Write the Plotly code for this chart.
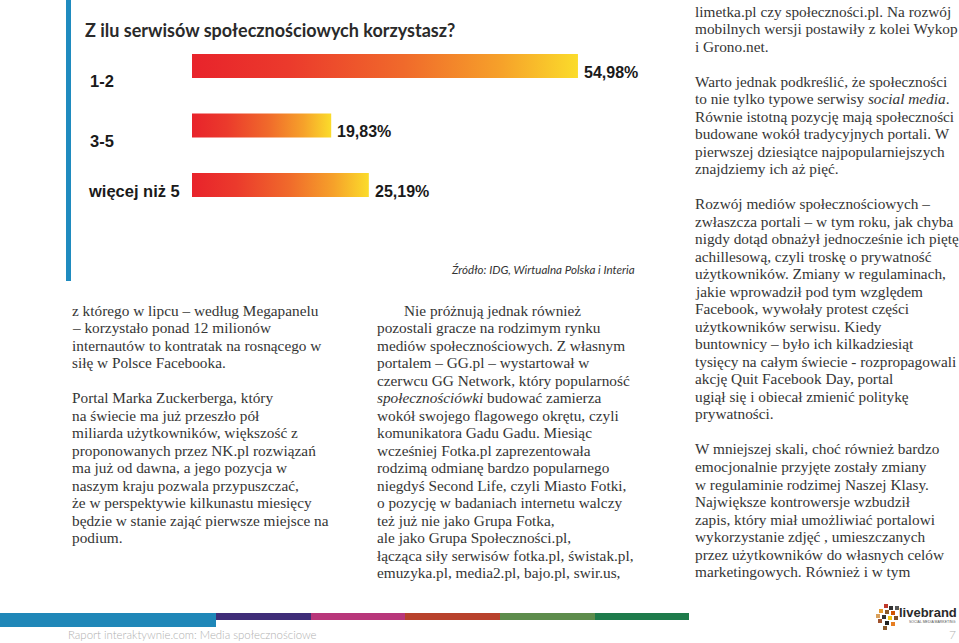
import plotly.graph_objects as go

W, H = 959, 643

# ---------------- data ----------------
title = "Z ilu serwisów społecznościowych korzystasz?"
categories = ["1-2", "3-5", "więcej niż 5"]
values = [54.98, 19.83, 25.19]
source = "Źródło: IDG, Wirtualna Polska i Interia"

col1_paragraphs = [
    ["z którego w lipcu – według Megapanelu",
     "– korzystało ponad 12 milionów",
     "internautów to kontratak na rosnącego w",
     "siłę w Polsce Facebooka."],
    ["Portal Marka Zuckerberga, który",
     "na świecie ma już przeszło pół",
     "miliarda użytkowników, większość z",
     "proponowanych przez NK.pl rozwiązań",
     "ma już od dawna, a jego pozycja w",
     "naszym kraju pozwala przypuszczać,",
     "że w perspektywie kilkunastu miesięcy",
     "będzie w stanie zająć pierwsze miejsce na",
     "podium."],
]
col2_paragraphs = [
    ["Nie próżnują jednak również",
     "pozostali gracze na rodzimym rynku",
     "mediów społecznościowych. Z własnym",
     "portalem – GG.pl – wystartował w",
     "czerwcu GG Network, który popularność",
     "<i>społecznościówki</i> budować zamierza",
     "wokół swojego flagowego okrętu, czyli",
     "komunikatora Gadu Gadu. Miesiąc",
     "wcześniej Fotka.pl zaprezentowała",
     "rodzimą odmianę bardzo popularnego",
     "niegdyś Second Life, czyli Miasto Fotki,",
     "o pozycję w badaniach internetu walczy",
     "też już nie jako Grupa Fotka,",
     "ale jako Grupa Społeczności.pl,",
     "łącząca siły serwisów fotka.pl, świstak.pl,",
     "emuzyka.pl, media2.pl, bajo.pl, swir.us,"],
]
col3_paragraphs = [
    ["limetka.pl czy społeczności.pl. Na rozwój",
     "mobilnych wersji postawiły z kolei Wykop",
     "i Grono.net."],
    ["Warto jednak podkreślić, że społeczności",
     "to nie tylko typowe serwisy <i>social media</i>.",
     "Równie istotną pozycję mają społeczności",
     "budowane wokół tradycyjnych portali. W",
     "pierwszej dziesiątce najpopularniejszych",
     "znajdziemy ich aż pięć."],
    ["Rozwój mediów społecznościowych –",
     "zwłaszcza portali – w tym roku, jak chyba",
     "nigdy dotąd obnażył jednocześnie ich piętę",
     "achillesową, czyli troskę o prywatność",
     "użytkowników. Zmiany w regulaminach,",
     "jakie wprowadził pod tym względem",
     "Facebook, wywołały protest części",
     "użytkowników serwisu. Kiedy",
     "buntownicy – było ich kilkadziesiąt",
     "tysięcy na całym świecie - rozpropagowali",
     "akcję Quit Facebook Day, portal",
     "ugiął się i obiecał zmienić politykę",
     "prywatności."],
    ["W mniejszej skali, choć również bardzo",
     "emocjonalnie przyjęte zostały zmiany",
     "w regulaminie rodzimej Naszej Klasy.",
     "Największe kontrowersje wzbudził",
     "zapis, który miał umożliwiać portalowi",
     "wykorzystanie zdjęć , umieszczanych",
     "przez użytkowników do własnych celów",
     "marketingowych. Również i w tym"],
]
footer_text = "Raport interaktywnie.com: Media społecznościowe"
page_number = "7"
logo_text = "livebrand"
logo_sub = "SOCIAL MEDIA MARKETING"

# ---------------- helpers ----------------
def PX(x):
    return x / W

def PY(y):
    return 1 - y / H

fig = go.Figure()

# bar axis geometry: x=0 at pixel 192, ~7.02 px per percent
X0, PPU = 192.0, 7.02
Y0, STEP = 66.0, 59.5
HALF = 12.0 / STEP

grad = [[0.0, "#e8232b"], [0.25, "#eb3a2c"], [0.55, "#f06a2b"],
        [0.8, "#f6a12a"], [1.0, "#fbdc2b"]]

for i, (c, v) in enumerate(zip(categories, values)):
    fig.add_trace(go.Scatter(
        x=[0, v, v, 0, 0],
        y=[i - HALF, i - HALF, i + HALF, i + HALF, i - HALF],
        mode="none", fill="toself",
        fillgradient=dict(type="horizontal", colorscale=grad),
        hoverinfo="skip", showlegend=False,
    ))

fig.update_xaxes(range=[-X0 / PPU, (W - X0) / PPU], visible=False, fixedrange=True)
fig.update_yaxes(range=[(H - Y0) / STEP, -Y0 / STEP], visible=False, fixedrange=True)

ann = []
# title
ann.append(dict(x=PX(83), y=PY(30), xref="paper", yref="paper", text=title,
                showarrow=False, xanchor="left", yanchor="middle",
                font=dict(family="Lato", size=18, color="#2a2a2a", weight=700)))
# category labels
label_dx = [88, 88, 86]
label_dy = [15, 15, 6]
for i, c in enumerate(categories):
    ann.append(dict(x=PX(label_dx[i]), y=i, xref="paper", yref="y", text=c,
                    yshift=-label_dy[i], showarrow=False, xanchor="left", yanchor="middle",
                    font=dict(family="Liberation Sans", size=16.5, color="#1a1a1a", weight=700)))
# value labels
for i, v in enumerate(values):
    ann.append(dict(x=v, y=i, xref="x", yref="y",
                    text=f"{v:.2f}".replace(".", ",") + "%",
                    xshift=4, yshift=-6, showarrow=False, xanchor="left", yanchor="middle",
                    font=dict(family="Liberation Sans", size=16, color="#1a1a1a", weight=700)))
# source
ann.append(dict(x=PX(637), y=PY(269), xref="paper", yref="paper", text=f"<i>{source}</i>",
                showarrow=False, xanchor="right", yanchor="middle",
                font=dict(family="Lato", size=11.6, color="#333333")))

# body text columns
LINE = 17.52
body_font = dict(family="Liberation Serif", size=15.3, color="#353535")

def add_column(paragraphs, x, y_start, first_indent=0):
    y = y_start
    for p in paragraphs:
        for j, line in enumerate(p):
            xx = x + (first_indent if j == 0 else 0)
            ann.append(dict(x=PX(xx), y=PY(y), xref="paper", yref="paper", text=line,
                            showarrow=False, xanchor="left", yanchor="middle",
                            font=body_font))
            y += LINE
        y += LINE

add_column(col1_paragraphs, 70, 310)
add_column(col2_paragraphs, 375, 310, first_indent=27)
add_column(col3_paragraphs, 693, 11)

# footer
ann.append(dict(x=PX(66), y=PY(634), xref="paper", yref="paper", text=footer_text,
                showarrow=False, xanchor="left", yanchor="middle",
                font=dict(family="Lato", size=11.4, color="#b0b0b0", weight=300)))
ann.append(dict(x=PX(958), y=PY(634), xref="paper", yref="paper", text=page_number,
                showarrow=False, xanchor="right", yanchor="middle",
                font=dict(family="Lato", size=12, color="#b0b0b0", weight=300)))
ann.append(dict(x=PX(959), y=PY(612), xref="paper", yref="paper", text=logo_text,
                showarrow=False, xanchor="right", yanchor="middle",
                font=dict(family="Liberation Sans", size=13, color="#2a2a2a", weight=700)))
ann.append(dict(x=PX(958), y=PY(622), xref="paper", yref="paper", text=logo_sub,
                showarrow=False, xanchor="right", yanchor="middle",
                font=dict(family="Liberation Sans", size=3.5, color="#555555")))

shapes = []
# vertical blue accent bar
shapes.append(dict(type="rect", xref="paper", yref="paper", x0=PX(66), x1=PX(71),
                   y0=PY(281), y1=PY(0), fillcolor="#1f8bbf", line_width=0, layer="above"))
# footer colour strip
strip = [(0, 216, 613, 627, "#1f87b8"), (216, 311, 613, 620, "#3f2e78"),
         (311, 405, 613, 620, "#b8367a"), (405, 500, 613, 620, "#b8412c"),
         (500, 595, 613, 620, "#5d8c4c"), (595, 689, 613, 620, "#1e7b4b")]
for x0, x1, y0, y1, col in strip:
    shapes.append(dict(type="rect", xref="paper", yref="paper", x0=PX(x0), x1=PX(x1),
                       y0=PY(y1), y1=PY(y0), fillcolor=col, line_width=0))
# little pixel logo icon
icon = [(884, 604, "#c0392b"), (889, 606, "#333333"), (879, 609, "#e69a2e"),
        (885, 610, "#8a5a2b"), (891, 611, "#d35400"), (882, 615, "#333333"),
        (888, 616, "#f1c40f"), (894, 616, "#7f4f24"), (878, 619, "#a0522d"),
        (885, 621, "#222222"), (891, 622, "#e67e22"), (883, 626, "#8b5a2b"),
        (895, 606, "#555555"), (876, 614, "#d9a05b")]
for x, y, col in icon:
    shapes.append(dict(type="rect", xref="paper", yref="paper", x0=PX(x), x1=PX(x + 4),
                       y0=PY(y + 4), y1=PY(y), fillcolor=col, line_width=0))

fig.update_layout(
    width=W, height=H, margin=dict(l=0, r=0, t=0, b=0),
    paper_bgcolor="white", plot_bgcolor="white",
    annotations=ann, shapes=shapes, showlegend=False,
)

fig.write_html("out.html", config={"displayModeBar": False},
               post_script="document.body.style.margin='0';document.body.style.overflow='hidden';")
